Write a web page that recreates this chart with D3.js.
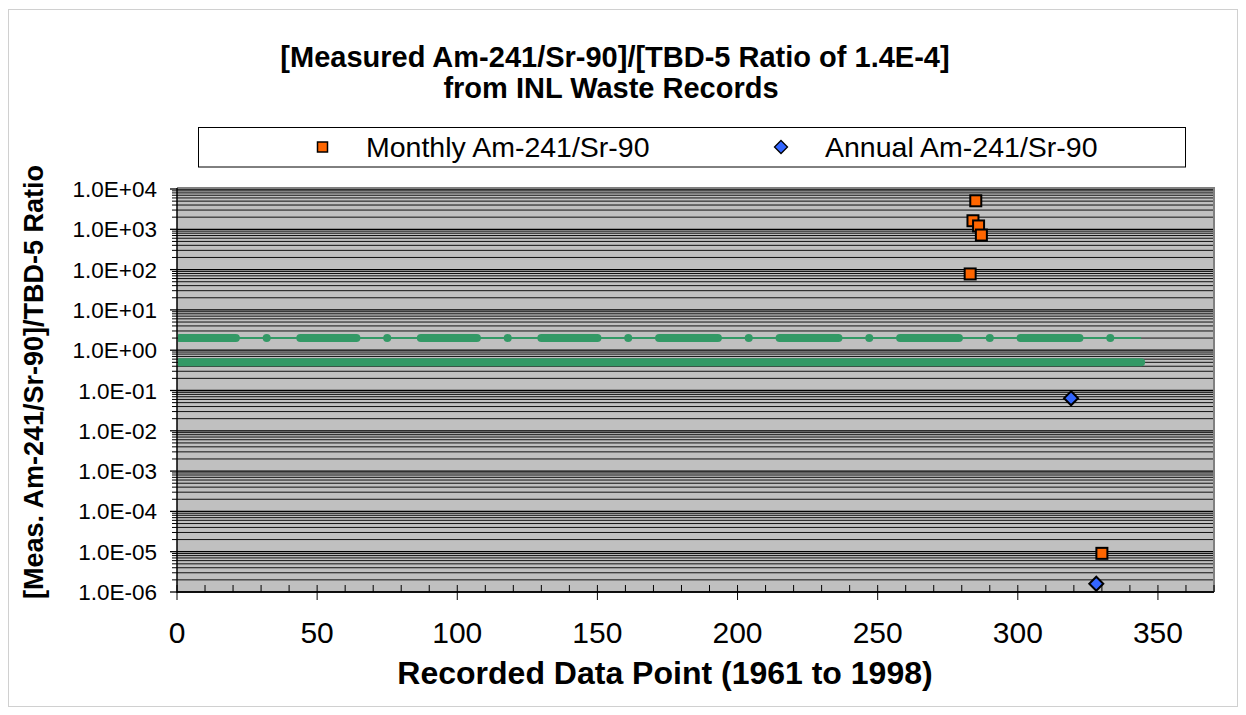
<!DOCTYPE html>
<html><head><meta charset="utf-8">
<script src="https://cdn.jsdelivr.net/npm/d3@7"></script>
<style>
body{margin:0;background:#fff}
svg{display:block}
text{font-family:Arial,"Liberation Sans",sans-serif;fill:#000}
</style>
</head><body>
<svg id="c" width="1246" height="715"></svg>
<script>
// ---------- data ----------
const titleLines = ["[Measured Am-241/Sr-90]/[TBD-5 Ratio of 1.4E-4]", "from INL Waste Records"];
const xTitle = "Recorded Data Point (1961 to 1998)";
const yTitle = "[Meas. Am-241/Sr-90]/TBD-5 Ratio";
const legendLabels = ["Monthly Am-241/Sr-90", "Annual Am-241/Sr-90"];
const xTicks = [0, 50, 100, 150, 200, 250, 300, 350];
const xMinorTicks = [10,20,30,40,60,70,80,90,110,120,130,140,160,170,180,190,210,220,230,240,260,270,280,290,310,320,330,340,360,370];
const yTicks = [1e-6, 1e-5, 1e-4, 1e-3, 1e-2, 1e-1, 1e0, 1e1, 1e2, 1e3, 1e4];
const yTickLabels = ["1.0E-06","1.0E-05","1.0E-04","1.0E-03","1.0E-02","1.0E-01","1.0E+00","1.0E+01","1.0E+02","1.0E+03","1.0E+04"];
const yMinorMult = [2,3,4,5,6,7,8,9];

const monthlyX = [285, 284, 286, 287, 283, 330];
const monthlyY = [5100, 1630, 1210, 720, 78, 9.1e-6];
const annualX = [319, 328];
const annualY = [0.064, 1.6e-6];

const upperBound = 2.0;
const lowerBound = 0.5;
const boundStart = 1, boundEnd = 344;
const upperRuns = [[1,21],[44,64],[87,107],[130,150],[172,193],[215,236],[258,279],[301,322]];
const upperDots = [32,75,118,161,204,247,290,333];

// ---------- layout ----------
const svg = d3.select("#c");
const L = 177, R = 1214, T = 189, B = 592;
const x = d3.scaleLinear().domain([0, 370]).range([L, R]);
const y = d3.scaleLog().domain([1e-6, 1e4]).range([B, T]);
const green = "#339966";
const diamond = s => `M0,${-s}L${s},0L0,${s}L${-s},0Z`;

// outer border
svg.append("rect").attr("x", 8.5).attr("y", 9.5).attr("width", 1229).attr("height", 697)
  .attr("fill", "#fff").attr("stroke", "#d0d0d0").attr("stroke-width", 1);

// titles
svg.append("text").attr("x", 615).attr("y", 67).attr("text-anchor", "middle")
  .attr("font-size", 29).attr("font-weight", "bold").text(titleLines[0]);
svg.append("text").attr("x", 611).attr("y", 98).attr("text-anchor", "middle")
  .attr("font-size", 29).attr("font-weight", "bold").text(titleLines[1]);

// legend
svg.append("rect").attr("x", 198.5).attr("y", 127.5).attr("width", 987).attr("height", 39.5)
  .attr("fill", "#fff").attr("stroke", "#000").attr("stroke-width", 1);
svg.append("rect").attr("x", 317.5).attr("y", 142).attr("width", 10).attr("height", 10)
  .attr("fill", "#FF6600").attr("stroke", "#000").attr("stroke-width", 1.5);
svg.append("text").attr("x", 366).attr("y", 157).attr("font-size", 28.5).text(legendLabels[0]);
svg.append("path").attr("d", diamond(6.5)).attr("transform", "translate(781,147)")
  .attr("fill", "#3366FF").attr("stroke", "#000").attr("stroke-width", 1.3);
svg.append("text").attr("x", 825).attr("y", 157).attr("font-size", 28.5).text(legendLabels[1]);

// plot area
svg.append("rect").attr("x", L).attr("y", T - 1).attr("width", R - L).attr("height", B - T + 1)
  .attr("fill", "#C0C0C0");

// gridlines
const g = svg.append("g");
const minorVals = [];
yTicks.slice(0, -1).forEach(d => yMinorMult.forEach(m => minorVals.push(d * m)));
g.selectAll("line.minor").data(minorVals).join("line")
  .attr("x1", L).attr("x2", R).attr("y1", d => y(d)).attr("y2", d => y(d))
  .attr("stroke", "#111").attr("stroke-width", 1);
g.selectAll("line.major").data(yTicks).join("line")
  .attr("x1", L).attr("x2", R).attr("y1", d => y(d)).attr("y2", d => y(d))
  .attr("stroke", "#000").attr("stroke-width", 1.3);

// plot border top/right
svg.append("path").attr("d", `M${L},${T - 1}H${R}V${B}`).attr("fill", "none")
  .attr("stroke", "#808080").attr("stroke-width", 2);

// y axis ticks
svg.selectAll("line.ymaj").data(yTicks).join("line")
  .attr("x1", L - 7).attr("x2", L).attr("y1", d => y(d)).attr("y2", d => y(d))
  .attr("stroke", "#000").attr("stroke-width", 1.3);
svg.selectAll("line.ymin").data(minorVals).join("line")
  .attr("x1", L - 5).attr("x2", L).attr("y1", d => y(d)).attr("y2", d => y(d))
  .attr("stroke", "#000").attr("stroke-width", 1);
svg.selectAll("text.ylab").data(yTicks).join("text")
  .attr("x", 157).attr("y", d => y(d) + 8).attr("text-anchor", "end")
  .attr("font-size", 22.5).text((d, i) => yTickLabels[i]);

// x axis ticks
svg.selectAll("line.xmaj").data(xTicks).join("line")
  .attr("x1", d => x(d)).attr("x2", d => x(d)).attr("y1", B - 7).attr("y2", B + 8)
  .attr("stroke", "#000").attr("stroke-width", 1);
svg.selectAll("line.xmin").data(xMinorTicks).join("line")
  .attr("x1", d => x(d)).attr("x2", d => x(d)).attr("y1", B - 7).attr("y2", B)
  .attr("stroke", "#000").attr("stroke-width", 1);
svg.selectAll("text.xlab").data(xTicks).join("text")
  .attr("x", d => x(d)).attr("y", 643).attr("text-anchor", "middle")
  .attr("font-size", 30).text(d => d);

// axis lines
svg.append("line").attr("x1", L).attr("x2", L).attr("y1", T - 1).attr("y2", B + 1)
  .attr("stroke", "#000").attr("stroke-width", 1.5);
svg.append("line").attr("x1", L).attr("x2", R).attr("y1", B).attr("y2", B)
  .attr("stroke", "#000").attr("stroke-width", 1.5);

// axis titles
svg.append("text").attr("x", 665).attr("y", 684).attr("text-anchor", "middle")
  .attr("font-size", 32).attr("font-weight", "bold").text(xTitle);
svg.append("text").attr("transform", "translate(43,382) rotate(-90)").attr("text-anchor", "middle")
  .attr("font-size", 27).attr("font-weight", "bold").text(yTitle);

// clip
svg.append("clipPath").attr("id", "pc").append("rect")
  .attr("x", L + 1).attr("y", T - 1).attr("width", R - L - 1).attr("height", B - T + 1);
const pg = svg.append("g").attr("clip-path", "url(#pc)");

// lower bound line (thick)
pg.append("line").attr("x1", x(boundStart)).attr("x2", x(boundEnd))
  .attr("y1", y(lowerBound)).attr("y2", y(lowerBound))
  .attr("stroke", green).attr("stroke-width", 8).attr("stroke-linecap", "round");
// upper bound: thin line + dense marker runs + isolated markers
pg.append("line").attr("x1", x(boundStart)).attr("x2", x(boundEnd))
  .attr("y1", y(upperBound)).attr("y2", y(upperBound))
  .attr("stroke", green).attr("stroke-width", 2);
pg.selectAll("line.run").data(upperRuns).join("line")
  .attr("x1", d => x(d[0])).attr("x2", d => x(d[1]))
  .attr("y1", y(upperBound)).attr("y2", y(upperBound))
  .attr("stroke", green).attr("stroke-width", 8).attr("stroke-linecap", "round");
pg.selectAll("circle.dot").data(upperDots).join("circle")
  .attr("cx", d => x(d)).attr("cy", y(upperBound)).attr("r", 4)
  .attr("fill", green);

// monthly squares
pg.selectAll("rect.m").data(monthlyX).join("rect")
  .attr("x", d => x(d) - 5.5).attr("y", (d, i) => y(monthlyY[i]) - 5.5)
  .attr("width", 11).attr("height", 11)
  .attr("fill", "#FF6600").attr("stroke", "#000").attr("stroke-width", 2);
// annual diamonds
pg.selectAll("path.a").data(annualX).join("path")
  .attr("d", diamond(7))
  .attr("transform", (d, i) => `translate(${x(d)},${y(annualY[i])})`)
  .attr("fill", "#3366FF").attr("stroke", "#000").attr("stroke-width", 2);
</script>
</body></html>
